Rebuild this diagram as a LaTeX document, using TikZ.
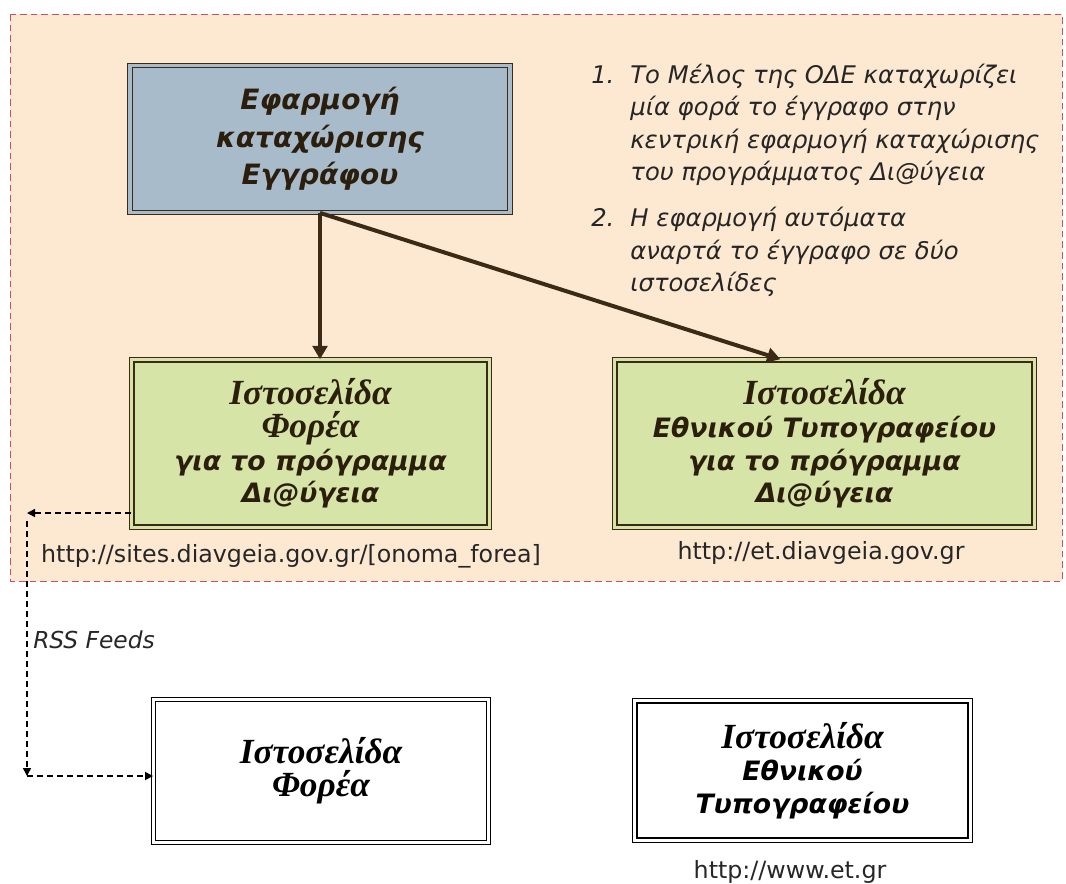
\documentclass[tikz,border=0pt]{standalone}
\usepackage{fontspec}
\setmainfont{DejaVu Sans}
\newfontfamily\timesgr{Liberation Serif}
\usetikzlibrary{arrows.meta}

\definecolor{peach}{HTML}{FDE9D2}
\definecolor{framered}{HTML}{C8506A}
\definecolor{appblue}{HTML}{A8BBCB}
\definecolor{sitegreen}{HTML}{D6E4A8}
\definecolor{darkbrown}{HTML}{3B2A16}
\definecolor{inkbrown}{HTML}{2B1E0C}

\newcommand{\sertitle}[1]{{\timesgr\fontsize{26.5}{24}\selectfont #1}}

\tikzset{
  twoline/.style={draw=darkbrown, line width=0.9pt, double distance=2.4pt,
    inner sep=0pt, align=center, text=inkbrown,
    font=\fontsize{20}{24.5}\selectfont\bfseries\itshape},
  appbox/.style={twoline, double=appblue, fill=appblue,
    font=\fontsize{21}{28}\selectfont\bfseries\itshape},
  sitebox/.style={twoline, double=sitegreen, fill=sitegreen},
  plainbox/.style={twoline, draw=black, double=white, fill=white, text=black},
  postarrow/.style={draw=darkbrown, line width=3pt, -{Triangle[length=10pt,width=11pt]}},
  feedline/.style={draw=black, line width=1.1pt, dash pattern=on 4.5pt off 3pt,
    -{Triangle[length=6pt,width=6pt]}},
  urltext/.style={inner sep=0pt, font=\fontsize{17.8}{20}\selectfont, text=black!85},
  notetext/.style={inner sep=0pt, font=\fontsize{18.2}{24.4}\selectfont\itshape, text=black!85}
}

\begin{document}
\begin{tikzpicture}[x=0.75pt,y=-0.75pt]
    \useasboundingbox (0,0) rectangle (1066,883);
    % area of the web sites
    \draw[draw=framered, line width=0.75pt, dash pattern=on 5pt off 3pt, fill=peach]
        (10,14) rectangle (1062,581);

    \node[appbox, minimum width=285pt, minimum height=110pt] (app) at (320,139)
        {Εφαρμογή\\καταχώρισης\\Εγγράφου};
    \node[sitebox, minimum width=268pt, minimum height=125.5pt] (fs) at (310.5,443.5)
        {\sertitle{Ιστοσελίδα}\\\sertitle{Φορέα}\\για το πρόγραμμα\\Δι@ύγεια};
    \node[sitebox, minimum width=314.5pt, minimum height=125.5pt] (et) at (824.5,443.5)
        {\sertitle{Ιστοσελίδα}\\Εθνικού Τυπογραφείου\\για το πρόγραμμα\\Δι@ύγεια};
    \node[plainbox, minimum width=251pt, minimum height=107pt] (fsb) at (321,771)
        {\sertitle{Ιστοσελίδα}\\\sertitle{Φορέα}};
    \node[plainbox, minimum width=251.5pt, minimum height=104.5pt] (etb) at (802.5,770.5)
        {\sertitle{Ιστοσελίδα}\\Εθνικού\\Τυπογραφείου};

    \node[urltext] (fsurl) at (291,556) {http://sites.diavgeia.gov.gr/[onoma\_forea]};
    \node[urltext] (eturl) at (821,553) {http://et.diavgeia.gov.gr};
    \node[urltext] (etburl) at (790,872) {http://www.et.gr};

    \node[notetext, anchor=north west] (steps) at (591,60) {%
        \begin{tabular}{@{}l@{\hspace{12pt}}l@{}}
        1. & Το Μέλος της ΟΔΕ καταχωρίζει\\
           & μία φορά το έγγραφο στην\\
           & κεντρική εφαρμογή καταχώρισης\\
           & του προγράμματος Δι@ύγεια\\[10pt]
        2. & Η εφαρμογή αυτόματα\\
           & αναρτά το έγγραφο σε δύο\\
           & ιστοσελίδες
        \end{tabular}};

    \coordinate (etin) at ([xshift=-33pt]et.north);
    \draw[postarrow] (app.south) -- (app.south |- fs.north);
    \draw[postarrow] (app.south) -- (etin);

    % rss feeds
    \coordinate (rsstop) at (27,513);
    \coordinate (rssturn) at (27,776);
    \draw[feedline] (fs.west |- rsstop) -- (rsstop);
    \draw[feedline] ([yshift=-6pt]rsstop) -- (rssturn);
    \draw[feedline] (rssturn) -- (fsb.west |- rssturn);
    \node[notetext, font=\fontsize{17.5}{20}\selectfont\itshape, anchor=west] (rss) at (33,640) {RSS Feeds};
\end{tikzpicture}
\end{document}
